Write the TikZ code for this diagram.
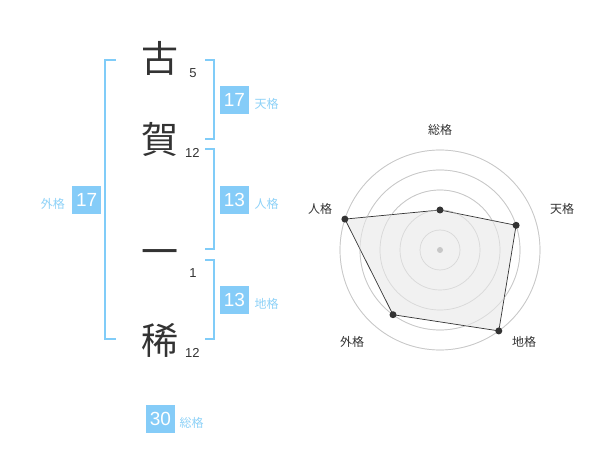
\documentclass[tikz,border=0pt]{standalone}
\usepackage{fontspec}
\setmainfont{Liberation Sans}
\newfontfamily\cjk{Noto Sans CJK JP}
\definecolor{bluebox}{HTML}{85CCF8}
\definecolor{bluebr}{HTML}{80CCF8}
\definecolor{bluelab}{HTML}{8ED2F8}
\definecolor{ink}{HTML}{333333}
\begin{document}
\begin{tikzpicture}[x=1pt,y=-1pt,
  bigchar/.style={inner sep=0pt, text=ink, font=\cjk\fontsize{37}{37}\selectfont},
  strokes/.style={inner sep=0pt, text=ink, font=\fontsize{13}{13}\selectfont},
  valbox/.style={fill=bluebox, text=white, minimum width=29pt, minimum height=28pt, inner sep=0pt, font=\fontsize{19}{19}\selectfont},
  vallab/.style={inner sep=0pt, text=bluelab, font=\cjk\fontsize{12}{12}\selectfont},
  bracket/.style={draw=bluebr, line width=2pt},
  ring/.style={draw=black!22, line width=0.7pt},
  radlab/.style={inner sep=0pt, text=ink, font=\cjk\fontsize{12}{12}\selectfont},
  dot/.style={circle, fill=ink, inner sep=0pt, minimum size=7pt}]
\useasboundingbox (0,0) rectangle (600,470);
\fill[white] (0,0) rectangle (600,470);

% name characters
\node[bigchar] (c1) at (160,58) {古};
\node[bigchar] (c2) at (160,139) {賀};
\node[bigchar] (c3) at (160,258) {一};
\node[bigchar] (c4) at (160,340) {稀};
\node[strokes] (s1) at (193,72.7) {5};
\node[strokes] (s2) at (192.3,153.3) {12};
\node[strokes] (s3) at (193,272.7) {1};
\node[strokes] (s4) at (192.3,353.3) {12};

% brackets
\draw[bracket] (115.7,60) -- (105,60) -- (105,339) -- (115.7,339);
\draw[bracket] (205,60) -- (214.3,60) -- (214.3,139.3) -- (205,139.3);
\draw[bracket] (205,149) -- (214.3,149) -- (214.3,249.3) -- (205,249.3);
\draw[bracket] (205,260) -- (214.3,260) -- (214.3,339) -- (205,339);

% value boxes
\node[valbox] (ten) at (234.5,100) {17};
\node[vallab, anchor=west] (tenl) at (254.3,104) {天格};
\node[valbox] (jin) at (234.5,200) {13};
\node[vallab, anchor=west] (jinl) at (254.3,204) {人格};
\node[valbox] (chi) at (234.5,300) {13};
\node[vallab, anchor=west] (chil) at (254.3,304) {地格};
\node[valbox] (gai) at (86.7,200) {17};
\node[vallab, anchor=east] (gail) at (65,204) {外格};
\node[valbox] (sou) at (160.5,419) {30};
\node[vallab, anchor=west] (soul) at (179.3,422.7) {総格};

% radar chart
\coordinate (O) at (440,250);
\foreach \r in {20,40,60,80,100} \draw[ring] (O) circle[radius=\r];
\coordinate (pS) at (440,210);
\coordinate (pT) at (516.1,225.3);
\coordinate (pC) at (498.8,330.9);
\coordinate (pG) at (393.0,314.7);
\coordinate (pJ) at (344.9,219.1);
\filldraw[fill=black!6, fill opacity=0.9, draw=ink, line width=0.7pt] (pS) -- (pT) -- (pC) -- (pG) -- (pJ) -- cycle;
\foreach \r in {20,40,60,80,100} \draw[ring, opacity=0.5] (O) circle[radius=\r];
\node[circle, fill=black!22, inner sep=0pt, minimum size=6pt] (cen) at (O) {};
\foreach \p in {pS,pT,pC,pG,pJ} \node[dot] at (\p) {};
\node[radlab] (lS) at (440,130) {総格};
\node[radlab] (lT) at (562,209) {天格};
\node[radlab] (lC) at (524,342) {地格};
\node[radlab] (lG) at (352,342) {外格};
\node[radlab] (lJ) at (320,209) {人格};
\end{tikzpicture}
\end{document}
